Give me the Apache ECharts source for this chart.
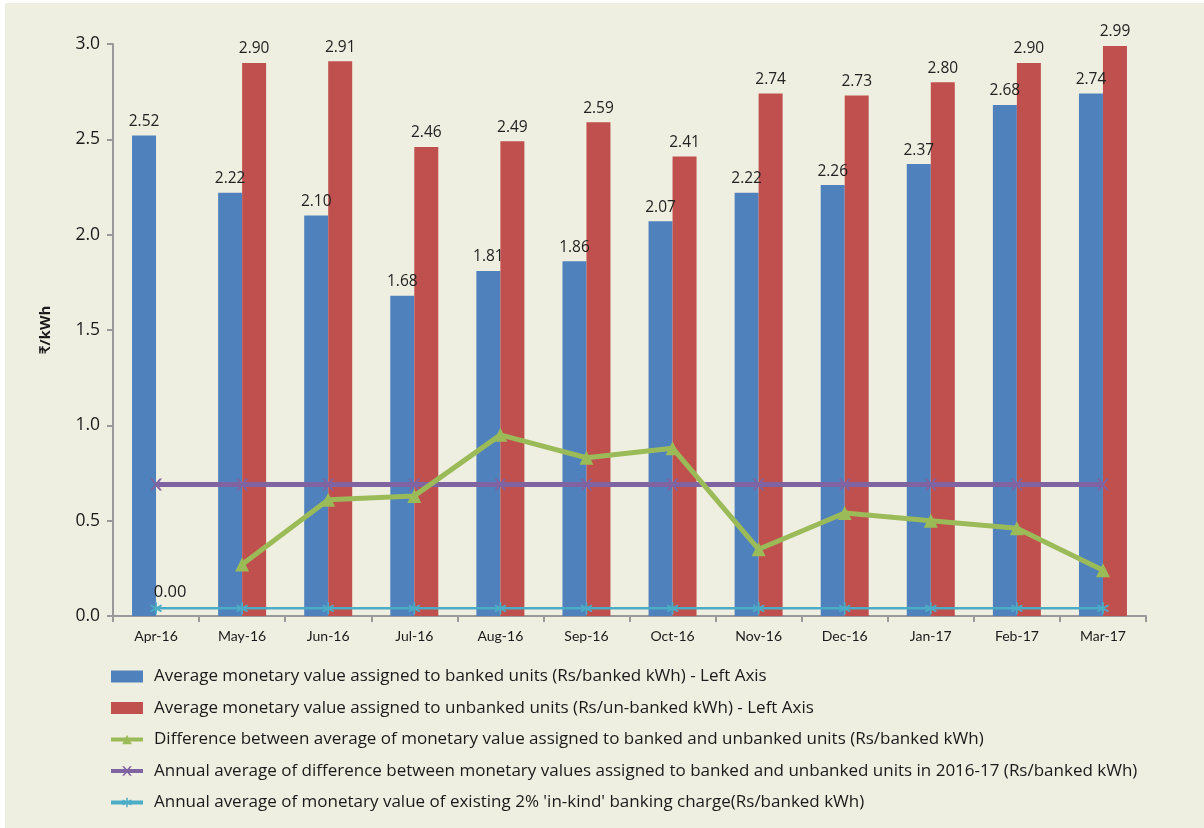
<!DOCTYPE html>
<html><head><meta charset="utf-8">
<script src="https://cdn.jsdelivr.net/npm/echarts@6/dist/echarts.min.js"></script>
<style>
html,body{margin:0;padding:0;background:#ffffff;}
#c{position:absolute;left:5px;top:3px;width:1199px;height:825px;background:#EFEFE1;}
</style></head><body>
<div id="c"></div>
<script>
const categories = ['Apr-16','May-16','Jun-16','Jul-16','Aug-16','Sep-16','Oct-16','Nov-16','Dec-16','Jan-17','Feb-17','Mar-17'];
const bankedValues = [2.52,2.22,2.10,1.68,1.81,1.86,2.07,2.22,2.26,2.37,2.68,2.74];
const unbankedValues = [null,2.90,2.91,2.46,2.49,2.59,2.41,2.74,2.73,2.80,2.90,2.99];
const differenceValues = [null,0.27,0.61,0.63,0.95,0.83,0.88,0.35,0.54,0.50,0.46,0.24];
const annualDiffValues = [0.69,0.69,0.69,0.69,0.69,0.69,0.69,0.69,0.69,0.69,0.69,0.69];
const bankingChargeValues = [0.04,0.04,0.04,0.04,0.04,0.04,0.04,0.04,0.04,0.04,0.04,0.04];
const bankingChargeLabels = ['0.00','','','','','','','','','','',''];
const yTicks = [0,0.5,1.0,1.5,2.0,2.5,3.0];

const names = [
 'Average monetary value assigned to banked units (Rs/banked kWh) - Left Axis',
 'Average monetary value assigned to unbanked units (Rs/un-banked kWh) - Left Axis',
 'Difference between average of monetary value assigned to banked and unbanked units (Rs/banked kWh)',
 'Annual average of difference between monetary values assigned to banked and unbanked units in 2016-17 (Rs/banked kWh)',
 "Annual average of monetary value of existing 2% 'in-kind' banking charge(Rs/banked kWh)"
];
const FONT = '"Open Sans", Lato, sans-serif';
const FONT2 = 'Lato, "Open Sans", sans-serif';
const xSym = 'path://M0,0 L2,0 L5,3.5 L8,0 L10,0 L6,5 L10,10 L8,10 L5,6.5 L2,10 L0,10 L4,5 Z';
const starSym = 'path://M4.3,0 L5.7,0 L5.7,3.6 L8.8,1.8 L9.5,3 L6.4,5 L9.5,7 L8.8,8.2 L5.7,6.4 L5.7,10 L4.3,10 L4.3,6.4 L1.2,8.2 L0.5,7 L3.6,5 L0.5,3 L1.2,1.8 L4.3,3.6 Z';

const chart = echarts.init(document.getElementById('c'));
const lbl = {show:true, position:'top', fontFamily:FONT, fontSize:15.5, color:'#222', formatter: p => p.value==null ? '' : p.value.toFixed(2), distance:6};
chart.setOption({
  animation:false,
  textStyle:{fontFamily:FONT},
  grid:{left:108, right:58, top:41, bottom:212},
  legend:{
    orient:'vertical', left:99, top:660, itemGap:14.5, itemWidth:32, itemHeight:12,
    textStyle:{fontFamily:FONT, fontSize:17, color:'#1a1a1a', padding:[0,0,0,6]},
    data:[
      {name:names[0], icon:'rect'},
      {name:names[1], icon:'rect'},
      {name:names[2], lineStyle:{width:4}},
      {name:names[3], lineStyle:{width:4}},
      {name:names[4], lineStyle:{width:4}}
    ]
  },
  xAxis:{
    type:'category', data:categories,
    axisLine:{lineStyle:{color:'#999', width:2}},
    axisTick:{show:true, length:6, lineStyle:{color:'#999', width:2}},
    axisLabel:{fontFamily:FONT2, fontSize:14, color:'#1a1a1a', margin:13}
  },
  yAxis:{
    type:'value', min:0, max:3, interval:0.5,
    name:'₹/kWh', nameLocation:'middle', nameRotate:90, nameGap:60,
    nameTextStyle:{fontFamily:FONT, fontSize:15, fontWeight:'bold', color:'#1a1a1a'},
    axisLine:{show:true, lineStyle:{color:'#999', width:2}},
    axisTick:{show:true, length:6, lineStyle:{color:'#999', width:2}},
    splitLine:{show:false},
    axisLabel:{fontFamily:FONT, fontSize:17.5, color:'#1a1a1a', margin:13, formatter:v => yTicks.includes(v) ? v.toFixed(1) : ''}
  },
  series:[
    {name:names[0], type:'bar', data:bankedValues, barWidth:24, barGap:'0%', itemStyle:{color:'#4F81BD'}, label:lbl},
    {name:names[1], type:'bar', data:unbankedValues, barWidth:24, barGap:'0%', itemStyle:{color:'#C0504D'}, label:lbl},
    {name:names[2], type:'line', data:differenceValues, symbol:'triangle', symbolSize:14, lineStyle:{color:'#9BBB59', width:5}, itemStyle:{color:'#9BBB59'}, z:5},
    {name:names[3], type:'line', data:annualDiffValues, symbol:xSym, symbolSize:12, lineStyle:{color:'#8064A2', width:5}, itemStyle:{color:'#8064A2'}, z:4},
    {name:names[4], type:'line', data:bankingChargeValues, symbol:starSym, symbolSize:12, lineStyle:{color:'#4BACC6', width:2.5}, itemStyle:{color:'#4BACC6'}, z:4,
      label:{show:true, position:'top', fontFamily:FONT, fontSize:16.5, color:'#1a1a1a', distance:2, offset:[14,0], formatter:p => bankingChargeLabels[p.dataIndex]}}
  ]
});
</script></body></html>
